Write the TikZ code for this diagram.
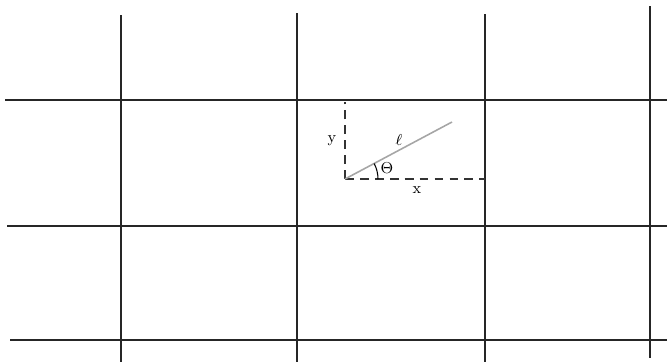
\documentclass[tikz,border=0pt]{standalone}
\begin{document}
\begin{tikzpicture}[x=0.02cm,y=-0.02cm,
  grid/.style={line width=1.1pt,black!85},
  guide/.style={line width=0.6pt,dash pattern=on 5pt off 3.5pt,black!80},
  rod/.style={line width=0.9pt,black!35},
  lab/.style={inner sep=0pt,font=\small}]
\useasboundingbox (0,0) rectangle (667,362);
% vertical grid lines
\draw[grid] (121,15) -- (121,362);
\draw[grid] (297,13) -- (297,362);
\draw[grid] (485,14) -- (485,362);
\draw[grid] (650,6) -- (650,358);
% horizontal grid lines
\draw[grid] (5,100) -- (667,100);
\draw[grid] (7,226) -- (667,226);
\draw[grid] (10,340) -- (667,340);
% construction
\coordinate (O) at (345,179);
\coordinate (T) at (345,102);
\coordinate (R) at (485,179);
\coordinate (E) at (452,122);
\draw[guide] (O) -- (T);
\draw[guide] (O) -- (R);
\draw[rod] (O) -- (E);
\draw[line width=0.6pt] ([xshift=33*0.02cm]O) arc[start angle=0,end angle=28,radius=33*0.02cm];
\node[lab] (th) at (387,168) {$\Theta$};
\node[lab] (el) at (399,140) {$\ell$};
\node[lab] (ly) at (332,141) {y};
\node[lab] (lx) at (417,190) {x};
\end{tikzpicture}
\end{document}
